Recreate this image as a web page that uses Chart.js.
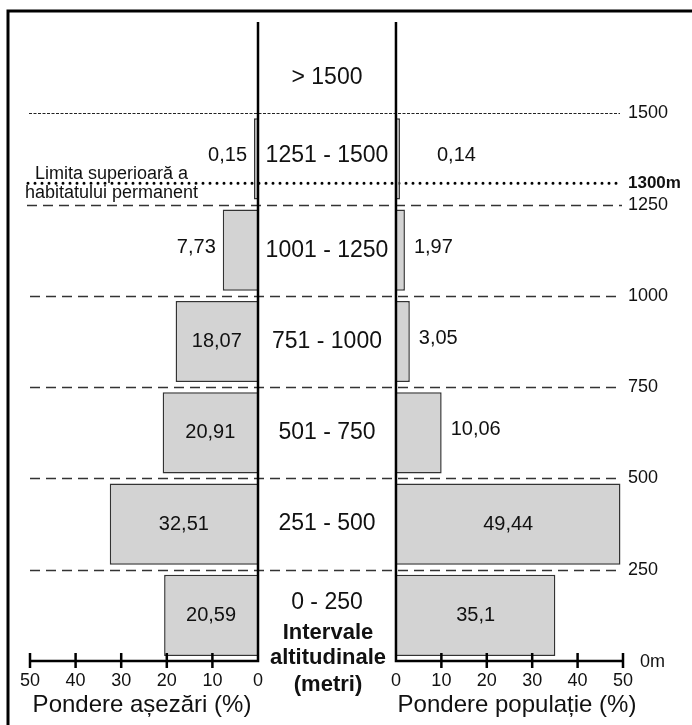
<!DOCTYPE html>
<html>
<head>
<meta charset="utf-8">
<script src="https://cdn.jsdelivr.net/npm/chart.js@4"></script>
<style>
  body { margin: 0; background: #fff; }
  canvas { display: block; }
</style>
</head>
<body>
<canvas id="altChart" width="692" height="725"></canvas>

<script>
// altitude intervals, bottom to top
var intervals = ['0 - 250', '251 - 500', '501 - 750', '751 - 1000', '1001 - 1250', '1251 - 1500', '> 1500'];
var settlements = [20.59, 32.51, 20.91, 18.07, 7.73, 0.15, null];
var population = [35.1, 49.44, 10.06, 3.05, 1.97, 0.14, null];
var boundaries = [250, 500, 750, 1000, 1250, 1500];
var permanentLimit = 1300;
var pctTicks = [0, 10, 20, 30, 40, 50];

var FONT = '"Liberation Sans", Arial, sans-serif';

function fmt(v) {
    return String(v).replace('.', ',');
}

function txt(ctx, s, x, y, size, bold, align) {
    ctx.save();
    ctx.font = (bold ? 'bold ' : '') + size + 'px ' + FONT;
    ctx.textAlign = align || 'center';
    ctx.textBaseline = 'middle';
    ctx.fillStyle = '#111';
    ctx.fillText(s, x, y);
    ctx.restore();
}

// altitude (m) -> index value on the category scale
function altToIndex(alt) {
    return alt / 250 - 0.5;
}

var gridPlugin = {
    id: 'altGrid',
    beforeDatasetsDraw: function(chart) {
        var ctx = chart.ctx;
        var y = chart.scales.y;
        ctx.save();
        boundaries.forEach(function(b) {
            var py = Math.round(y.getPixelForValue(altToIndex(b))) + 0.5;
            ctx.beginPath();
            if (b === 1500) {
                ctx.setLineDash([3, 1.5]);
                ctx.lineWidth = 1;
                ctx.strokeStyle = '#222';
                ctx.moveTo(29, py);
                ctx.lineTo(620, py);
            } else {
                ctx.setLineDash([10, 6]);
                ctx.lineWidth = 1.5;
                ctx.strokeStyle = '#333';
                ctx.moveTo(b === 1250 ? 27 : 30, py);
                ctx.lineTo(622, py);
            }
            ctx.stroke();
            txt(ctx, String(b), 628, py, 18, false, 'left');
        });
        // upper limit of permanent habitat
        var ly = y.getPixelForValue(altToIndex(permanentLimit)) - 3;
        ctx.beginPath();
        ctx.setLineDash([0, 7]);
        ctx.lineCap = 'round';
        ctx.lineWidth = 3;
        ctx.strokeStyle = '#000';
        ctx.moveTo(28, ly);
        ctx.lineTo(622, ly);
        ctx.stroke();
        ctx.restore();
        txt(ctx, permanentLimit + 'm', 628, ly, 17, true, 'left');
        txt(ctx, 'Limita superioară a', 35, ly - 9, 18, false, 'left');
        txt(ctx, 'habitatului permanent', 25, ly + 10, 18, false, 'left');
    },
    afterDatasetsDraw: function(chart) {
        var ctx = chart.ctx;
        var area = chart.chartArea;
        var xL = chart.scales.xL, xR = chart.scales.xR, y = chart.scales.y;
        var bottom = area.bottom;

        // value labels
        [[0, settlements, -1], [1, population, 1]].forEach(function(d) {
            var meta = chart.getDatasetMeta(d[0]);
            meta.data.forEach(function(bar, i) {
                var v = d[1][i];
                if (v === null) return;
                if (v > 15) {
                    txt(ctx, fmt(v), (bar.x + bar.base) / 2, bar.y, 20, false, 'center');
                } else if (d[2] < 0) {
                    txt(ctx, fmt(v), bar.x - 7, bar.y - 3, 20, false, 'right');
                } else {
                    txt(ctx, fmt(v), bar.x + (v < 1 ? 37 : 9), bar.y - 3, 20, false, 'left');
                }
            });
        });

        // interval labels in the middle column
        var mid = (xL.getPixelForValue(0) + xR.getPixelForValue(0)) / 2;
        intervals.forEach(function(lab, i) {
            var py = y.getPixelForValue(i);
            if (i === 0) py -= 13;
            if (i === 5) py -= 3;
            if (i === intervals.length - 1) py += 10;
            txt(ctx, lab, mid, py, 23, false, 'center');
        });
        txt(ctx, 'Intervale', mid + 1, 633, 22, true, 'center');
        txt(ctx, 'altitudinale', mid + 1, 658, 22, true, 'center');
        txt(ctx, '(metri)', mid + 1, 685, 22, true, 'center');

        // axes
        ctx.save();
        ctx.strokeStyle = '#000';
        ctx.lineWidth = 2.5;
        ctx.setLineDash([]);
        var l0 = xL.getPixelForValue(0), r0 = xR.getPixelForValue(0);
        ctx.beginPath();
        ctx.moveTo(l0, area.top);
        ctx.lineTo(l0, bottom);
        ctx.lineTo(xL.getPixelForValue(50), bottom);
        ctx.moveTo(r0, area.top);
        ctx.lineTo(r0, bottom);
        ctx.lineTo(xR.getPixelForValue(50), bottom);
        pctTicks.forEach(function(t) {
            if (t === 0) return;
            [xL, xR].forEach(function(s) {
                var px = s.getPixelForValue(t);
                ctx.moveTo(px, bottom - 8);
                ctx.lineTo(px, bottom + 7);
            });
        });
        ctx.stroke();
        ctx.restore();
        pctTicks.forEach(function(t) {
            txt(ctx, String(t), xL.getPixelForValue(t), bottom + 20, 18, false, 'center');
            txt(ctx, String(t), xR.getPixelForValue(t), bottom + 20, 18, false, 'center');
        });
        txt(ctx, '0m', 640, bottom + 1, 18, false, 'left');
        txt(ctx, 'Pondere așezări (%)', 142, 705, 24, false, 'center');
        txt(ctx, 'Pondere populație (%)', 517, 705, 24, false, 'center');

        // frame (top and left edge)
        ctx.save();
        ctx.strokeStyle = '#000';
        ctx.lineWidth = 3;
        ctx.beginPath();
        ctx.moveTo(8, 730);
        ctx.lineTo(8, 11);
        ctx.lineTo(700, 11);
        ctx.stroke();
        ctx.restore();
    }
};

var ctx = document.getElementById('altChart').getContext('2d');

new Chart(ctx, {
    type: 'bar',
    data: {
        labels: intervals,
        datasets: [{
            label: 'Pondere așezări (%)',
            data: settlements,
            xAxisID: 'xL',
            stack: 'same',
            backgroundColor: '#d3d3d3',
            borderColor: '#333',
            borderWidth: 1.5,
            minBarLength: 4
        }, {
            label: 'Pondere populație (%)',
            data: population,
            xAxisID: 'xR',
            stack: 'same',
            backgroundColor: '#d3d3d3',
            borderColor: '#333',
            borderWidth: 1.5,
            minBarLength: 4
        }]
    },
    options: {
        indexAxis: 'y',
        responsive: false,
        animation: false,
        devicePixelRatio: 1,
        categoryPercentage: 1,
        barPercentage: 0.89,
        layout: {
            padding: { left: 30, right: 69, top: 22, bottom: 64 }
        },
        scales: {
            y: { display: false, reverse: true, stacked: true },
            // left half: 0 at the inner axis, 50 at the outer end
            xL: { type: 'linear', display: false, reverse: true, stacked: false, bounds: 'data', min: -80.04, max: 50 },
            xR: { type: 'linear', display: false, stacked: false, bounds: 'data', min: -80.6, max: 50 }
        },
        plugins: {
            legend: { display: false },
            tooltip: { enabled: false }
        }
    },
    plugins: [gridPlugin]
});
</script>
</body>
</html>
